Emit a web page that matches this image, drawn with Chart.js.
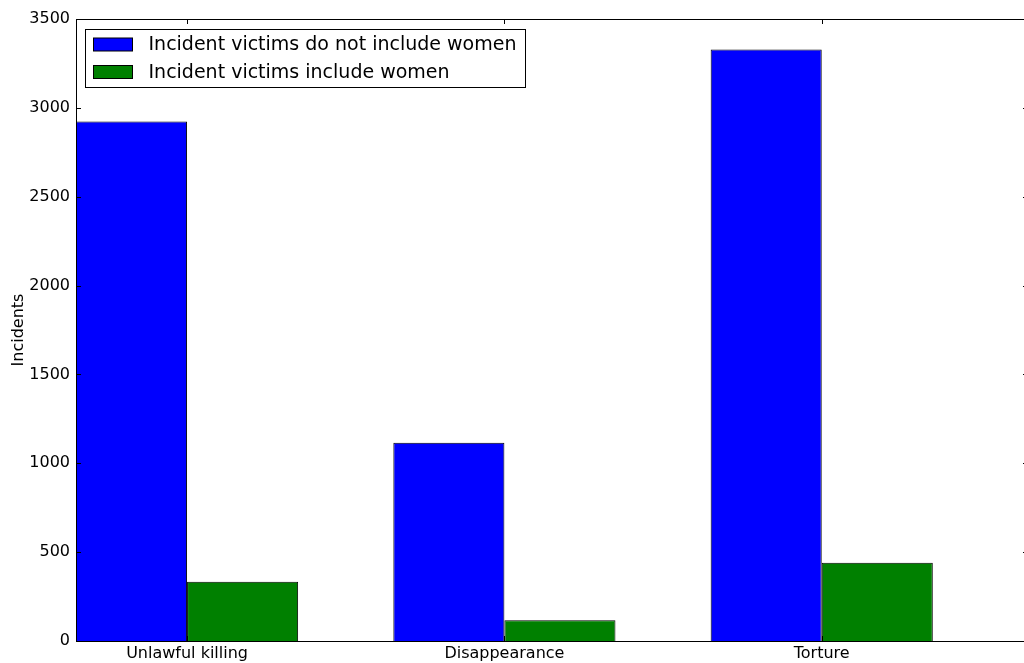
<!DOCTYPE html>
<html>
<head>
<meta charset="utf-8">
<script src="https://cdn.jsdelivr.net/npm/chart.js@4/dist/chart.umd.min.js"></script>
<style>
html,body{margin:0;padding:0;background:#fff;overflow:hidden;width:1024px;height:663px;}
#wrap{position:absolute;left:0;top:0;width:1040px;height:663px;}
</style>
</head>
<body>
<div id="wrap"><canvas id="c" width="1040" height="663"></canvas></div>
<script>
const categories = ['Unlawful killing', 'Disappearance', 'Torture'];
const seriesNames = ['Incident victims do not include women', 'Incident victims include women'];
const withoutWomen = [2923, 1116, 3329];
const withWomen = [334, 117, 441];
const yTicks = [0, 500, 1000, 1500, 2000, 2500, 3000, 3500];
const colors = ['#0000ff', '#008000'];

const groupOffset = 0.35; // tick sits between the two bars of each group
const FONT = 'DejaVu Sans';

const toPoints = arr => arr.map((v, i) => ({x: i + groupOffset, y: v}));

const frame = {
  id: 'frame',
  afterDraw(chart) {
    const {ctx, chartArea: a, scales} = chart;
    ctx.save();
    ctx.strokeStyle = '#000';
    ctx.lineWidth = 1;
    const L = 5;
    ctx.beginPath();
    yTicks.forEach(v => {
      const y = Math.round(scales.y.getPixelForValue(v)) + 0.5;
      ctx.moveTo(a.left, y); ctx.lineTo(a.left + L, y);
      ctx.moveTo(a.right, y); ctx.lineTo(a.right - L, y);
    });
    categories.forEach((c, i) => {
      const x = Math.round(scales.x.getPixelForValue(i + groupOffset)) + 0.5;
      ctx.moveTo(x, a.bottom); ctx.lineTo(x, a.bottom - L);
      ctx.moveTo(x, a.top); ctx.lineTo(x, a.top + L);
    });
    ctx.stroke();
    ctx.strokeRect(Math.round(a.left) + 0.5, Math.round(a.top) + 0.5, Math.round(a.right - a.left), Math.round(a.bottom - a.top));

    // legend
    ctx.font = '19px "' + FONT + '"';
    const tw = Math.max(...seriesNames.map(s => ctx.measureText(s).width));
    const bx = Math.round(a.left) + 9.5, by = Math.round(a.top) + 10.5;
    const bw = Math.round(63 + tw + 9), bh = 58;
    ctx.fillStyle = '#fff';
    ctx.fillRect(bx, by, bw, bh);
    ctx.strokeStyle = '#000';
    ctx.strokeRect(bx, by, bw, bh);
    seriesNames.forEach((s, i) => {
      const cy = by + 15 + i * 27.5;
      ctx.fillStyle = colors[i];
      ctx.fillRect(bx + 8, cy - 6.5, 39, 13);
      ctx.strokeStyle = '#000';
      ctx.strokeRect(bx + 8, cy - 6.5, 39, 13);
      ctx.fillStyle = '#000';
      ctx.textBaseline = 'middle';
      ctx.textAlign = 'left';
      ctx.fillText(s, bx + 63, cy + 1);
    });
    ctx.restore();
  }
};

new Chart(document.getElementById('c'), {
  type: 'bar',
  data: {
    datasets: [
      {label: seriesNames[0], data: toPoints(withoutWomen), backgroundColor: colors[0], borderColor: '#000', borderWidth: 1},
      {label: seriesNames[1], data: toPoints(withWomen), backgroundColor: colors[1], borderColor: '#000', borderWidth: 1}
    ]
  },
  options: {
    responsive: false,
    devicePixelRatio: 1,
    animation: false,
    categoryPercentage: 0.7,
    barPercentage: 1.0,
    layout: {padding: {top: 19, right: 12, left: 0, bottom: 0}},
    plugins: {legend: {display: false}, tooltip: {enabled: false}},
    scales: {
      x: {
        type: 'linear',
        offset: false,
        min: 0, max: 3,
        grid: {display: false, drawTicks: false},
        border: {display: false},
        afterBuildTicks: s => { s.ticks = categories.map((c, i) => ({value: i + groupOffset})); },
        afterFit: s => { s.height = 22; },
        ticks: {
          autoSkip: false, maxRotation: 0, padding: 3,
          color: '#000',
          font: {family: FONT, size: 16},
          callback: v => categories[Math.round(v - groupOffset)]
        }
      },
      y: {
        min: 0, max: 3500,
        grid: {display: false, drawTicks: false},
        border: {display: false},
        afterBuildTicks: s => { s.ticks = yTicks.map(v => ({value: v})); },
        afterFit: s => { s.width = 76; },
        ticks: {padding: 6, color: '#000', font: {family: FONT, size: 16}, callback: v => String(v)},
        title: {display: true, text: 'Incidents', color: '#000', font: {family: FONT, size: 16}, padding: {top: 9, bottom: 4}}
      }
    }
  },
  plugins: [frame]
});
</script>
</body>
</html>
